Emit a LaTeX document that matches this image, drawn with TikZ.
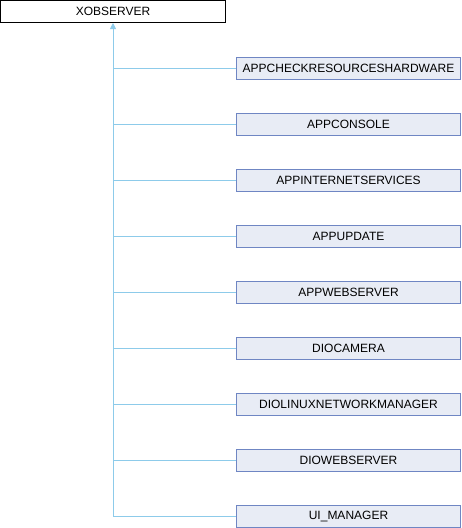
\documentclass[tikz,border=0pt]{standalone}
\usepackage{fontspec}
\setmainfont{Liberation Sans}
\usepackage{tikz}
\usetikzlibrary{arrows.meta}
\usepackage{xcolor}
\definecolor{edgeblue}{HTML}{8DCBEA}
\definecolor{boxfill}{HTML}{E8ECF5}
\definecolor{boxline}{HTML}{6F86C3}
\tikzset{
  % the base class box
  baseclass/.style={draw=black,fill=white,line width=1pt,minimum width=225pt,
    minimum height=22pt,inner sep=0pt,font=\fontsize{12}{13}\selectfont},
  % derived class boxes
  subclass/.style={draw=boxline,fill=boxfill,line width=1pt,minimum width=224pt,
    minimum height=22pt,inner sep=0pt,font=\fontsize{12}{13}\selectfont},
  % inheritance lines
  inherit/.style={draw=edgeblue,line width=0.9pt},
}
\begin{document}
\begin{tikzpicture}[x=1pt,y=-1pt]
    \useasboundingbox (0,0) rectangle (462,528);
    \node[baseclass] (xobserver) at (113,11.5) {XOBSERVER};

    \node[subclass] (checkres) at (348.5,68) {APPCHECKRESOURCESHARDWARE};
    \node[subclass] (console) at (348.5,124) {APPCONSOLE};
    \node[subclass] (inetserv) at (348.5,180) {APPINTERNETSERVICES};
    \node[subclass] (update) at (348.5,236) {APPUPDATE};
    \node[subclass] (appweb) at (348.5,292) {APPWEBSERVER};
    \node[subclass] (camera) at (348.5,348) {DIOCAMERA};
    \node[subclass] (netman) at (348.5,404) {DIOLINUXNETWORKMANAGER};
    \node[subclass] (dioweb) at (348.5,460) {DIOWEBSERVER};
    \node[subclass] (uimanager) at (348.5,516) {UI\_MANAGER};

    \begin{scope}[inherit]
    \draw[-{Triangle[width=6pt,length=6pt]}] (uimanager.west) -| (xobserver.south);
    \draw (checkres.west) -- (checkres.west -| xobserver.south);
    \draw (console.west) -- (console.west -| xobserver.south);
    \draw (inetserv.west) -- (inetserv.west -| xobserver.south);
    \draw (update.west) -- (update.west -| xobserver.south);
    \draw (appweb.west) -- (appweb.west -| xobserver.south);
    \draw (camera.west) -- (camera.west -| xobserver.south);
    \draw (netman.west) -- (netman.west -| xobserver.south);
    \draw (dioweb.west) -- (dioweb.west -| xobserver.south);
    \end{scope}
\end{tikzpicture}
\end{document}
